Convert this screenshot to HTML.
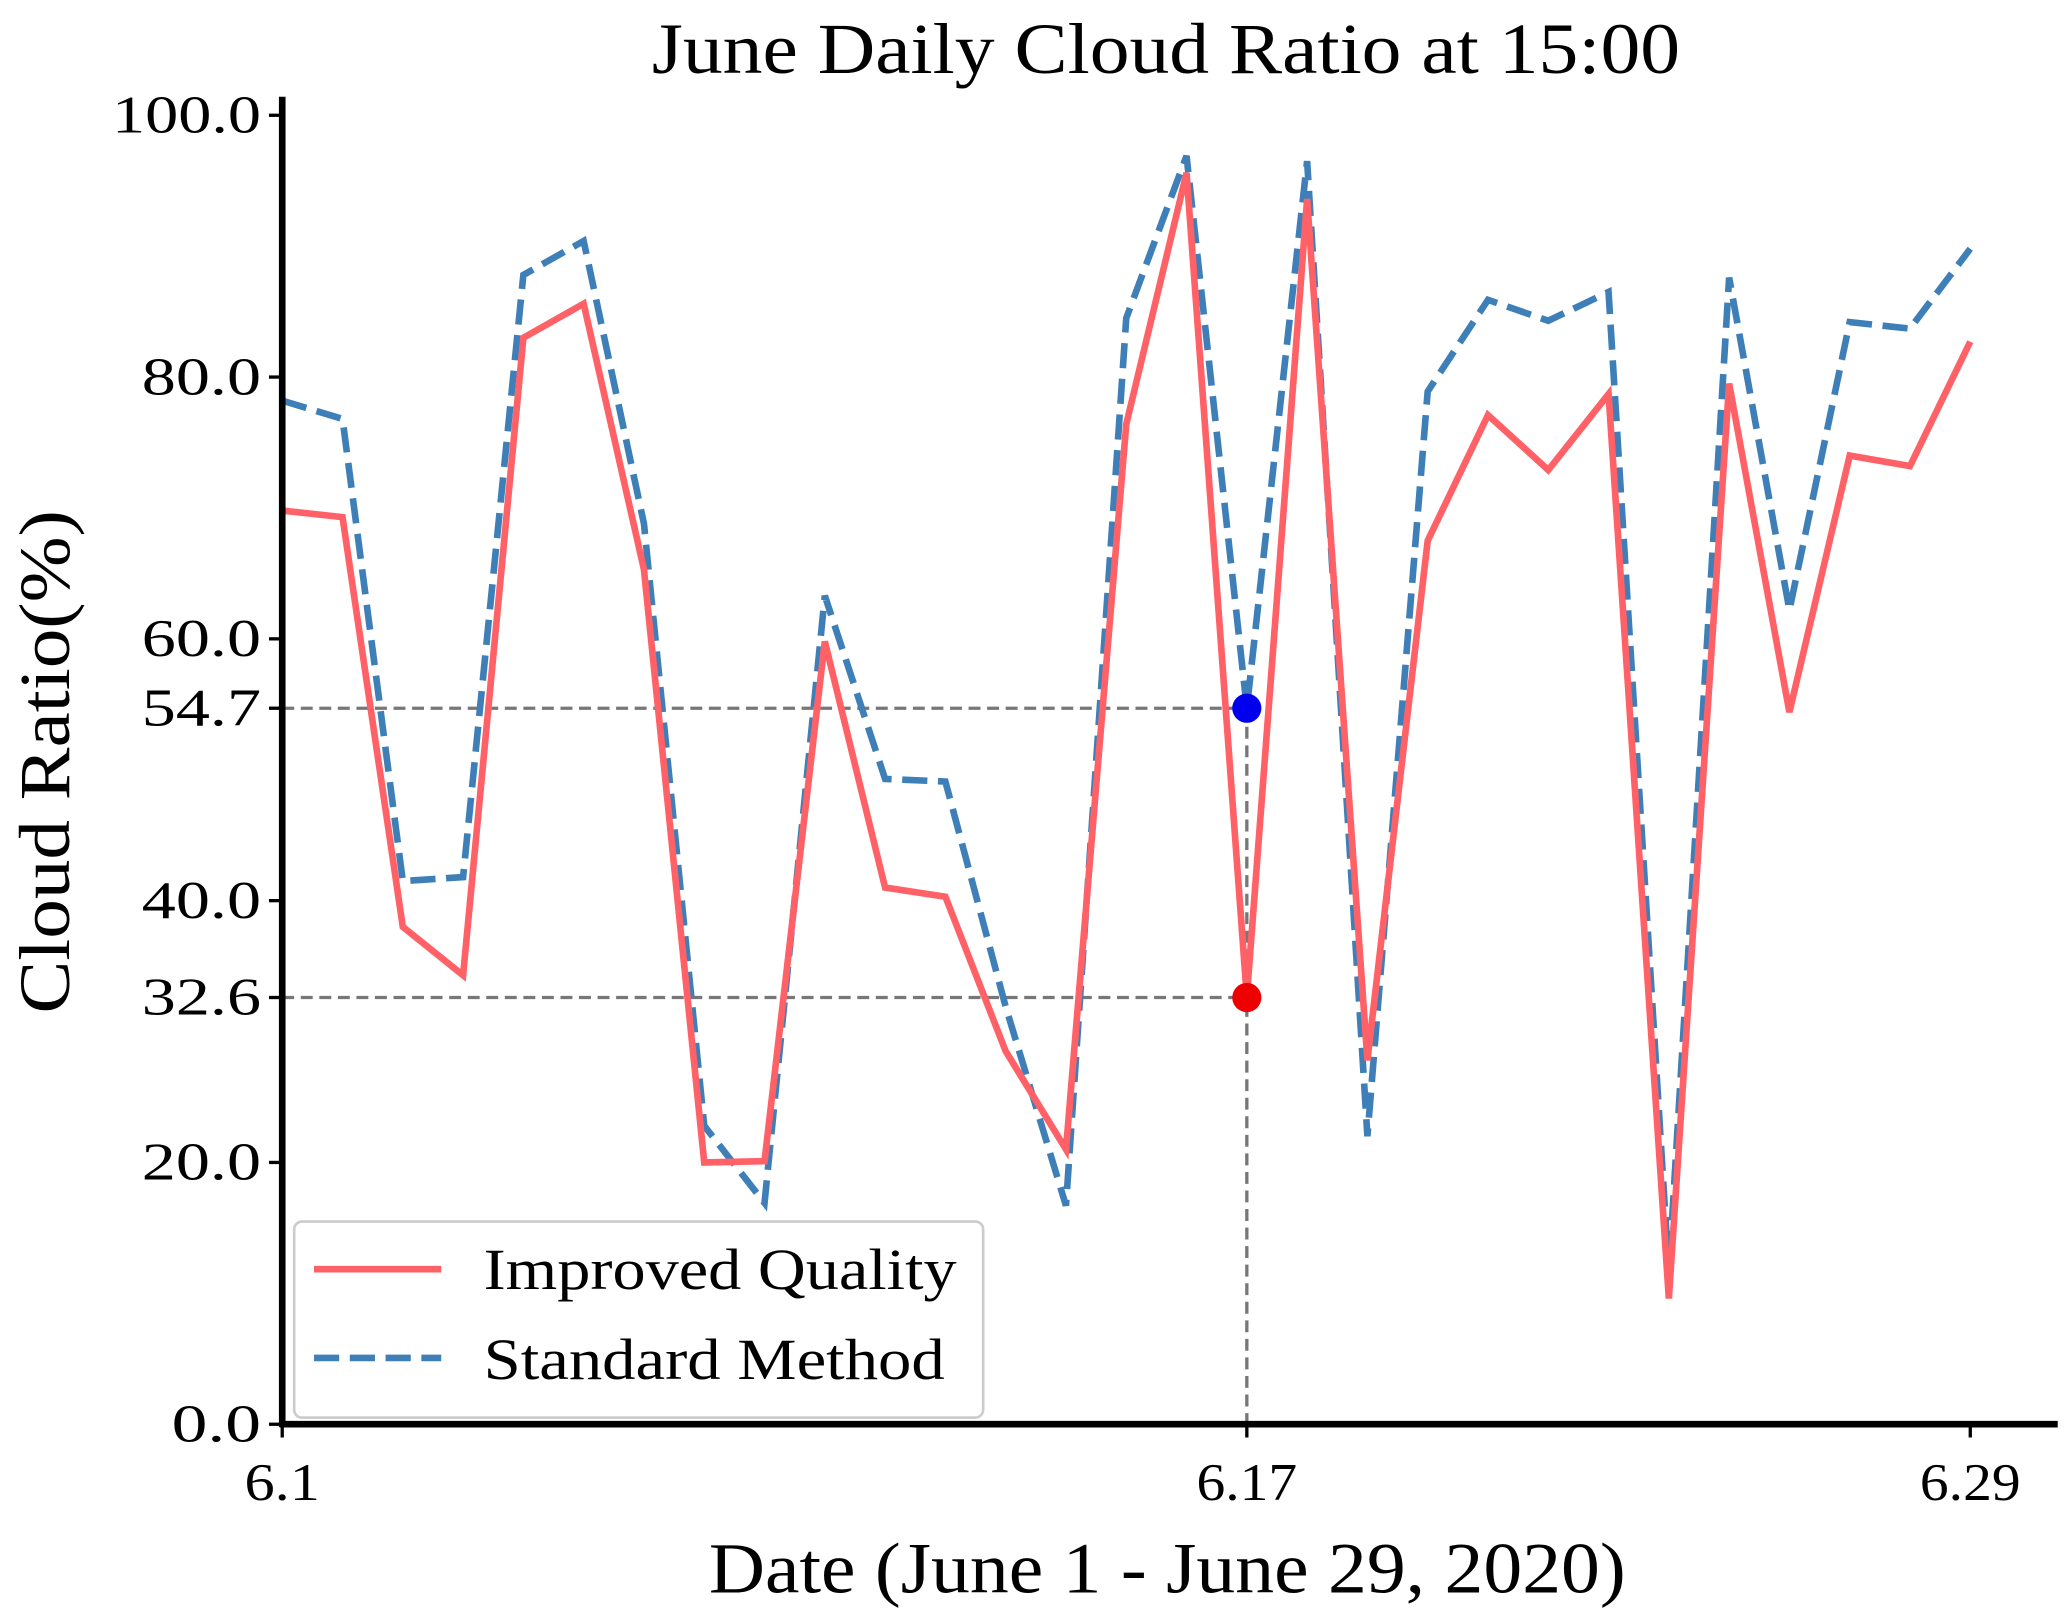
<!DOCTYPE html>
<html><head><meta charset="utf-8"><style>
html,body{margin:0;padding:0;background:#fff}
svg{display:block}
text{font-family:"Liberation Serif",serif;fill:#000}
</style></head><body>
<svg id="chart" width="2067" height="1619" viewBox="0 0 1560 1222" preserveAspectRatio="none" xmlns="http://www.w3.org/2000/svg">
<text x="880" y="55" font-size="54" text-anchor="middle" textLength="776" lengthAdjust="spacingAndGlyphs">June Daily Cloud Ratio at 15:00</text>
<g id="grid"></g>
<g id="series"></g>
<g id="axes"></g>
<text x="881" y="1202" font-size="54" text-anchor="middle" textLength="692" lengthAdjust="spacingAndGlyphs">Date (June 1 - June 29, 2020)</text>
<text transform="translate(52,575) rotate(-90)" font-size="54" text-anchor="middle" textLength="380" lengthAdjust="spacingAndGlyphs">Cloud Ratio(%)</text>
<g>
<rect x="222" y="922" width="520" height="148" rx="6" fill="#fff" fill-opacity="0.85" stroke="#ccc" stroke-width="2"/>
<line x1="237" y1="958" x2="333" y2="958" stroke="#ff6166" stroke-width="5"/>
<text x="365" y="973" font-size="44" textLength="357" lengthAdjust="spacingAndGlyphs">Improved Quality</text>
<line x1="237" y1="1025" x2="333" y2="1025" stroke="#3f7fb8" stroke-width="5" stroke-dasharray="19,8"/>
<text x="365" y="1041" font-size="44" textLength="348" lengthAdjust="spacingAndGlyphs">Standard Method</text>
</g>
</svg>
<script>
const days = [1,2,3,4,5,6,7,8,9,10,11,12,13,14,15,16,17,18,19,20,21,22,23,24,25,26,27,28,29];
const improved = [69.8,69.3,38.0,34.3,83.0,85.6,65.3,20.0,20.1,59.8,41.0,40.3,28.5,21.0,76.4,95.6,32.6,93.6,27.8,67.5,77.1,72.9,78.7,9.6,79.5,54.4,74.0,73.2,82.7];
const standard = [78.2,76.8,41.5,41.8,87.8,90.4,68.8,22.8,16.9,63.3,49.3,49.1,31.9,16.7,84.5,96.9,54.7,96.5,22.0,78.9,85.9,84.3,86.5,11.6,87.6,62.2,84.2,83.7,89.8];
const yTicks = [0,20,40,60,80,100,32.6,54.7];
const xTicks = [1,17,29];
const highlightDay = 17;

const NS="http://www.w3.org/2000/svg";
const X = d => 213 + (d-1)*(1487-213)/28;
const Y = v => 1075 - v*(1075-87)/100;
function mk(tag, attrs, parent){const e=document.createElementNS(NS,tag);for(const k in attrs)e.setAttribute(k,attrs[k]);parent.appendChild(e);return e;}
const grid=document.getElementById('grid'), series=document.getElementById('series'), axes=document.getElementById('axes');

const hi = days.indexOf(highlightDay);
[[improved[hi]],[standard[hi]]].forEach((v,i)=>{
  const l=mk('line',{x1:213,x2:X(highlightDay),y1:Y(v[0]),y2:Y(v[0]),stroke:'#777','stroke-width':2.5,'stroke-dasharray':'9,5'},grid);
  
  
});
const vl=mk('line',{x1:X(highlightDay),x2:X(highlightDay),y1:Y(standard[hi]),y2:1075,stroke:'#777','stroke-width':2.5,'stroke-dasharray':'9,5'},grid);



const pts = arr => arr.map((v,i)=>X(days[i])+','+Y(v)).join(' ');
const p1=mk('polyline',{points:pts(standard),fill:'none',stroke:'#3f7fb8','stroke-width':5,'stroke-dasharray':'19,8','stroke-linejoin':'miter'},series);


const p2=mk('polyline',{points:pts(improved),fill:'none',stroke:'#ff6166','stroke-width':5,'stroke-linejoin':'miter'},series);


const c1=mk('circle',{cx:X(highlightDay),cy:Y(standard[hi]),r:11,fill:'#0000ee'},series);


const c2=mk('circle',{cx:X(highlightDay),cy:Y(improved[hi]),r:11,fill:'#ee0000'},series);



const ys=mk('line',{x1:213,x2:213,y1:73,y2:1077,stroke:'#000','stroke-width':5},axes);


const xs=mk('line',{x1:211,x2:1553,y1:1075,y2:1075,stroke:'#000','stroke-width':5},axes);


yTicks.forEach(v=>{
  const t=mk('line',{x1:203,x2:213,y1:Y(v),y2:Y(v),stroke:'#000','stroke-width':2.5},axes);
  
  
  const s=v.toFixed(1);
  const tx=mk('text',{x:197,y:Y(v)+13,'font-size':40,'text-anchor':'end',textLength:s.length*22.5,lengthAdjust:'spacingAndGlyphs'},axes);
  tx.textContent=s;
  
  
});
xTicks.forEach(d=>{
  const t=mk('line',{x1:X(d),x2:X(d),y1:1075,y2:1085,stroke:'#000','stroke-width':2.5},axes);
  
  
  const s='6.'+d;
  const tx=mk('text',{x:X(d),y:1132,'font-size':40,'text-anchor':'middle',textLength:s.length*19,lengthAdjust:'spacingAndGlyphs'},axes);
  tx.textContent=s;
  
  
});
</script>
</body></html>
